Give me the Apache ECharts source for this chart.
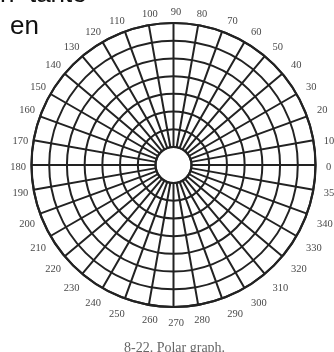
<!DOCTYPE html>
<html>
<head>
<meta charset="utf-8">
<script src="https://cdn.jsdelivr.net/npm/echarts@6/dist/echarts.min.js"></script>
<style>
html,body{margin:0;padding:0;background:#fff;}
#chart{width:334px;height:352px;}
</style>
</head>
<body>
<div id="chart"></div>
<script>
// Angle tick labels (degrees), every 10°
var angleTicks = [0,10,20,30,40,50,60,70,80,90,100,110,120,130,140,150,160,170,180,190,200,210,220,230,240,250,260,270,280,290,300,310,320,330,340,350];
// Concentric ring values (radius axis)
var ringValues = [0,1,2,3,4,5,6,7];
// Texts
var captionText = '8-22. Polar graph.';
var topLine1 = 'n  tante';
var topLine2 = 'en';

var chart = echarts.init(document.getElementById('chart'), null, {renderer: 'canvas'});
var lineColor = '#222';
function angleAxisBase(polarIndex, showGrid, showLabel) {
  return {
    polarIndex: polarIndex,
    type: 'value',
    min: 0, max: 360, interval: 10,
    startAngle: 0, clockwise: false,
    axisLine: { show: showGrid, lineStyle: { color: lineColor, width: 2.2 } },
    axisTick: { show: false },
    splitLine: { show: showGrid, lineStyle: { color: lineColor, width: 2 } },
    axisLabel: {
      show: showLabel, margin: 8,
      color: '#4a4a4a', fontSize: 10.5, fontFamily: 'Liberation Serif',
      formatter: function (v) { return angleTicks.indexOf(v) >= 0 ? String(v) : ''; }
    }
  };
}
function radiusAxisBase(polarIndex, showGrid) {
  return {
    polarIndex: polarIndex,
    type: 'value',
    min: ringValues[0], max: ringValues[ringValues.length - 1], interval: 1,
    axisLine: { show: false }, axisTick: { show: false }, axisLabel: { show: false },
    splitLine: { show: showGrid, lineStyle: { color: lineColor, width: 2 } }
  };
}
chart.setOption({
  animation: false,
  backgroundColor: '#ffffff',
  polar: [
    { center: [173.5, 165], radius: [18, 142] },
    { center: [176, 167.5], radius: [18, 142] }
  ],
  angleAxis: [angleAxisBase(0, true, false), angleAxisBase(1, false, true)],
  radiusAxis: [radiusAxisBase(0, true), radiusAxisBase(1, false)],
  series: [
    { type: 'line', coordinateSystem: 'polar', polarIndex: 0, data: [], silent: true },
    { type: 'line', coordinateSystem: 'polar', polarIndex: 1, data: [], silent: true }
  ],
  graphic: [
    { type: 'text', x: 0, y: 8, style: { text: topLine1, font: '26px "Liberation Sans"', fill: '#111', verticalAlign: 'bottom' } },
    { type: 'text', x: 10, y: 14, style: { text: topLine2, font: '26px "Liberation Sans"', fill: '#111' } },
    { type: 'text', x: 124, y: 341, style: { text: captionText, font: '14px "Liberation Serif"', fill: '#666' } }
  ]
});
</script>
</body>
</html>
